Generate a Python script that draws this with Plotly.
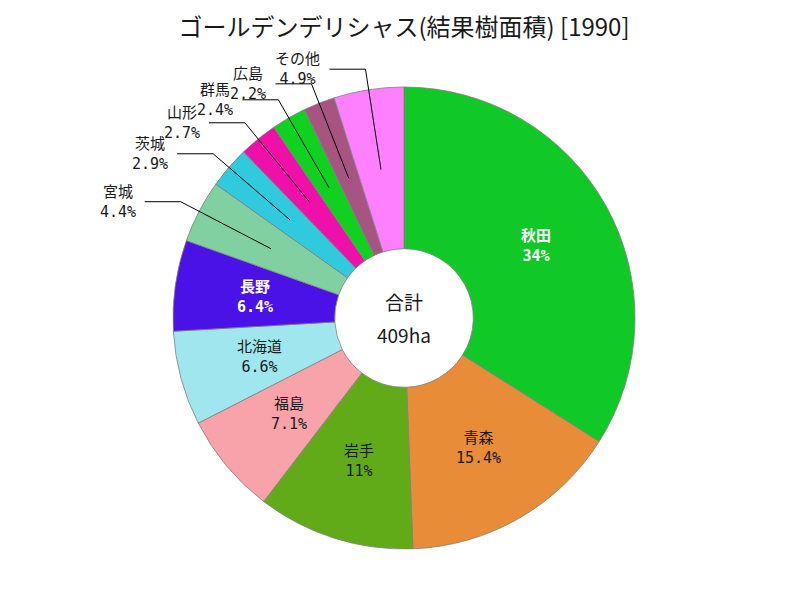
import math
import plotly.graph_objects as go

# ---- data ----
labels = ["秋田", "青森", "岩手", "福島", "北海道", "長野", "宮城", "茨城", "山形", "群馬", "広島", "その他"]
values = [139, 63, 45, 29, 27, 26, 18, 12, 11, 10, 9, 20]
title_text = "ゴールデンデリシャス(結果樹面積) [1990]"
center_label = "合計"
unit = "ha"

# ---- style ----
colors = ["#10C826", "#E88C38", "#62AB18", "#F8A2AA", "#A0E6EE", "#4A12E6",
          "#80D0A2", "#30CADE", "#EE10A8", "#10D020", "#A85482", "#FF80FF"]
white_text = {"秋田", "長野"}
W, H = 800, 600
ML, MR, MT, MB = 8, 0, 87, 51
HOLE = 0.3
INSIDE_MIN = 5.0
LABEL_FONT = "DejaVu Sans Mono, Noto Sans CJK JP, monospace"
LABEL_SIZE = 15

total = sum(values)
pcts = [v / total * 100 for v in values]


def fmt_pct(p):
    s = f"{p:.1f}"
    if s.endswith(".0"):
        s = s[:-2]
    return s + "%"


fig = go.Figure(go.Pie(
    labels=labels, values=values, textinfo="none",
    sort=False, direction="clockwise", rotation=0, hole=HOLE,
    marker=dict(colors=colors, line=dict(color="#808080", width=0.8)),
    hoverinfo="label+value+percent", showlegend=False,
))

# geometry of the pie in pixels (for label placement)
pw, ph = W - ML - MR, H - MT - MB
R = min(pw, ph) / 2
cx, cy = ML + pw / 2, MT + ph / 2


def to_paper(px, py):
    return (px - ML) / pw, (H - MB - py) / ph


cum = 0.0
shapes, annotations = [], []
for lab, v, p in zip(labels, values, pcts):
    mid = (cum + v / 2) / total
    cum += v
    ang = math.radians(90 - mid * 360)
    rin = (1 + HOLE) / 2 * R
    ax_, ay_ = cx + rin * math.cos(ang), cy - rin * math.sin(ang)
    if p >= INSIDE_MIN:
        x, y = to_paper(ax_, ay_)
        if lab in white_text:
            txt, col = f"<b>{lab}<br>{fmt_pct(p)}</b>", "white"
        else:
            txt, col = f"{lab}<br>{fmt_pct(p)}", "#1a1a1a"
        annotations.append(dict(x=x, y=y, xref="paper", yref="paper",
                                xanchor="center", yanchor="middle", align="center",
                                text=txt, showarrow=False,
                                font=dict(family=LABEL_FONT, size=LABEL_SIZE, color=col)))
        continue
    ex, ey = cx + 1.09 * R * math.cos(ang), cy - 1.09 * R * math.sin(ang)
    hx = ex - 36
    p0, p1, p2 = to_paper(ax_, ay_), to_paper(ex, ey), to_paper(hx, ey)
    shapes.append(dict(type="path", xref="paper", yref="paper",
                       path=f"M {p0[0]} {p0[1]} L {p1[0]} {p1[1]} L {p2[0]} {p2[1]}",
                       line=dict(color="black", width=1)))
    lx, ly = to_paper(hx - 7, ey)
    annotations.append(dict(x=lx, y=ly, xref="paper", yref="paper",
                            xanchor="right", yanchor="middle", align="center",
                            text=f"{lab}<br>{fmt_pct(p)}", showarrow=False,
                            font=dict(family=LABEL_FONT, size=LABEL_SIZE, color="#1a1a1a")))

cfont = dict(family="Noto Sans CJK JP, sans-serif", size=19, color="#1a1a1a")
annotations.append(dict(x=0.5, y=0.5, xref="paper", yref="paper", yshift=17,
                        text=center_label, showarrow=False, font=cfont,
                        xanchor="center", yanchor="middle"))
annotations.append(dict(x=0.5, y=0.5, xref="paper", yref="paper", yshift=-16,
                        text=f"{total}{unit}", showarrow=False, font=cfont,
                        xanchor="center", yanchor="middle"))

fig.update_layout(
    width=W, height=H,
    margin=dict(l=ML, r=MR, t=MT, b=MB),
    paper_bgcolor="white", plot_bgcolor="white",
    title=dict(text=title_text, x=0.505, xanchor="center", y=1 - 28 / H, yanchor="middle",
               yref="container",
               font=dict(family="Noto Sans CJK JP, sans-serif", size=24, color="#1a1a1a")),
    shapes=shapes, annotations=annotations,
)

fig.write_html("out.html")
